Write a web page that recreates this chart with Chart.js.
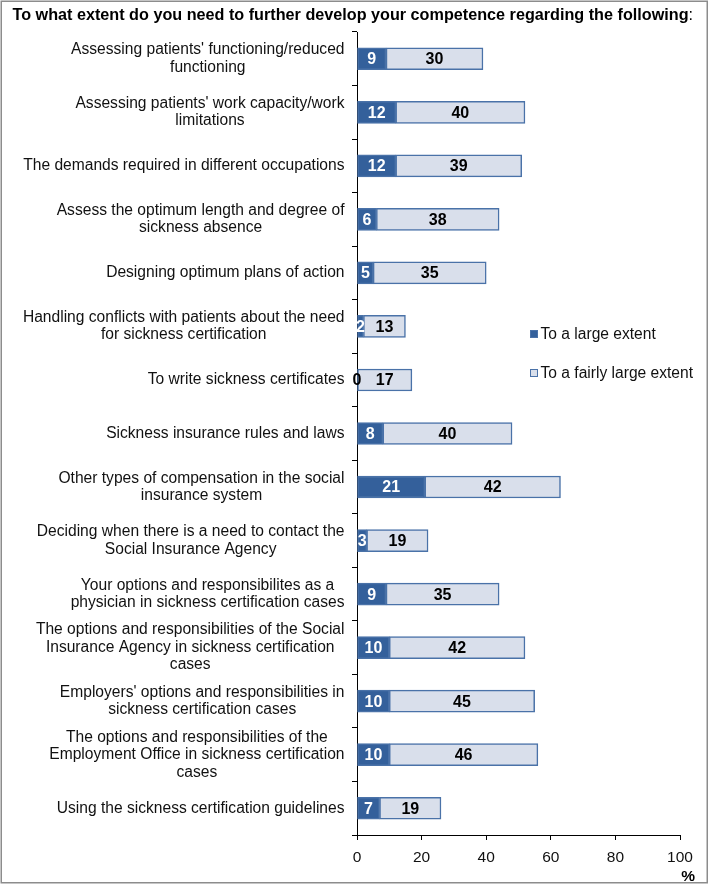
<!DOCTYPE html>
<html>
<head>
<meta charset="utf-8">
<script src="https://cdn.jsdelivr.net/npm/chart.js@4/dist/chart.umd.min.js"></script>
<style>
  html, body { margin: 0; padding: 0; background: #fff; }
  #wrap { position: relative; width: 709px; height: 884px; }
  canvas { display: block; }
</style>
</head>
<body>
<div id="wrap"><canvas id="c" width="709" height="884"></canvas></div>
<script>
const titleText = "To what extent do you need to further develop your competence regarding the following";
const categories = [
  ["Assessing patients' functioning/reduced", "functioning"],
  ["Assessing patients' work capacity/work", "limitations"],
  ["The demands required in different occupations"],
  ["Assess the optimum length and degree of", "sickness absence"],
  ["Designing optimum plans of action"],
  ["Handling conflicts with patients about the need", "for sickness certification"],
  ["To write sickness certificates"],
  ["Sickness insurance rules and laws"],
  ["Other types of compensation in the social", "insurance system"],
  ["Deciding when there is a need to contact the", "Social Insurance Agency"],
  ["Your options and responsibilites as a", "physician in sickness certification cases"],
  ["The options and responsibilities of the Social", "Insurance Agency in sickness certification", "cases"],
  ["Employers' options and responsibilities in", "sickness certification cases"],
  ["The options and responsibilities of the", "Employment Office in sickness certification", "cases"],
  ["Using the sickness certification guidelines"]
];
const seriesNames = ["To a large extent", "To a fairly large extent"];
const largeExtent = [9, 12, 12, 6, 5, 2, 0, 8, 21, 3, 9, 10, 10, 10, 7];
const fairlyLargeExtent = [30, 40, 39, 38, 35, 13, 17, 40, 42, 19, 35, 42, 45, 46, 19];
const xTicks = [0, 20, 40, 60, 80, 100];
const xUnit = "%";

const FONT = "'Liberation Sans', Arial, sans-serif";
const DARK = '#34609b';
const LIGHT = '#d9dfeb';
const EDGE = '#4a72a8';

const customDraw = {
  id: 'customDraw',
  beforeDraw(chart) {
    const ctx = chart.ctx;
    ctx.save();
    ctx.fillStyle = '#fff';
    ctx.fillRect(0, 0, chart.width, chart.height);
    ctx.strokeStyle = '#8c8c8c';
    ctx.lineWidth = 1.5;
    ctx.strokeRect(1.25, 1.25, chart.width - 3, chart.height - 2.5);
    ctx.restore();
  },
  afterDraw(chart) {
    const ctx = chart.ctx;
    const yScale = chart.scales.y;
    ctx.save();
    // Title
    ctx.fillStyle = '#000';
    ctx.textBaseline = 'alphabetic';
    ctx.textAlign = 'left';
    ctx.font = "bold 16.2px " + FONT;
    ctx.fillText(titleText, 12.5, 20);
    const tw = ctx.measureText(titleText).width;
    ctx.font = "16.2px " + FONT;
    ctx.fillText(":", 12.5 + tw, 20);

    // Category labels: each block right-aligned, lines centered within block
    ctx.font = "15.6px " + FONT;
    ctx.fillStyle = '#111';
    ctx.textBaseline = 'middle';
    ctx.textAlign = 'center';
    const lh = 17.5;
    const rightEdge = 344.5;
    categories.forEach((lines, i) => {
      const yc = yScale.getPixelForValue(i);
      let maxW = 0;
      lines.forEach(l => { maxW = Math.max(maxW, ctx.measureText(l).width); });
      const cx = rightEdge - maxW / 2;
      lines.forEach((l, j) => {
        const yy = yc + (j - (lines.length - 1) / 2) * lh;
        ctx.fillText(l, cx, yy);
      });
    });

    // Data labels
    ctx.font = "bold 16px " + FONT;
    chart.data.datasets.forEach((ds, di) => {
      const meta = chart.getDatasetMeta(di);
      meta.data.forEach((bar, i) => {
        const v = ds.data[i];
        const p = bar.getProps(['x', 'base', 'y'], true);
        const cx = (p.x + p.base) / 2;
        ctx.fillStyle = (di === 0 && v > 0) ? '#fff' : '#000';
        ctx.fillText(String(v), cx, p.y + 1);
      });
    });

    // Legend
    const legY = [334, 373];
    ctx.textAlign = 'left';
    ctx.font = "15.6px " + FONT;
    seriesNames.forEach((name, i) => {
      const y = legY[i];
      ctx.fillStyle = i === 0 ? DARK : LIGHT;
      ctx.fillRect(530, y - 4, 8, 8);
      ctx.strokeStyle = EDGE;
      ctx.lineWidth = 1;
      ctx.strokeRect(530.5, y - 3.5, 7, 7);
      ctx.fillStyle = '#111';
      ctx.fillText(name, 540.5, y + 1);
    });

    // Axis unit
    ctx.font = "bold 15.5px " + FONT;
    ctx.textAlign = 'right';
    ctx.fillStyle = '#000';
    ctx.fillText(xUnit, 695, 877);
    ctx.restore();
  }
};

new Chart(document.getElementById('c'), {
  type: 'bar',
  data: {
    labels: categories,
    datasets: [
      { label: seriesNames[0], data: largeExtent, backgroundColor: DARK, borderColor: EDGE, borderWidth: 1.5, borderSkipped: false, barThickness: 22 },
      { label: seriesNames[1], data: fairlyLargeExtent, backgroundColor: LIGHT, borderColor: EDGE, borderWidth: 1.5, borderSkipped: false, barThickness: 22 }
    ]
  },
  options: {
    indexAxis: 'y',
    responsive: false,
    animation: false,
    layout: { padding: { left: 0, right: 29, top: 32, bottom: 0 } },
    plugins: {
      legend: { display: false },
      title: { display: false },
      tooltip: { enabled: false }
    },
    scales: {
      x: {
        stacked: true,
        min: 0, max: 100,
        afterBuildTicks(scale) { scale.ticks = xTicks.map(v => ({ value: v })); },
        afterFit(scale) { scale.height = 49; },
        grid: { drawOnChartArea: false, drawTicks: true, tickLength: 5, color: '#000' },
        border: { display: true, color: '#000', width: 1 },
        ticks: { font: { family: FONT, size: 15.5 }, color: '#111', padding: 8 }
      },
      y: {
        stacked: true,
        afterFit(scale) { scale.width = 357; },
        grid: { offset: true, drawOnChartArea: false, drawTicks: true, tickLength: 5, color: '#000' },
        border: { display: true, color: '#000', width: 1 },
        ticks: { display: false }
      }
    }
  },
  plugins: [customDraw]
});
</script>
</body>
</html>
